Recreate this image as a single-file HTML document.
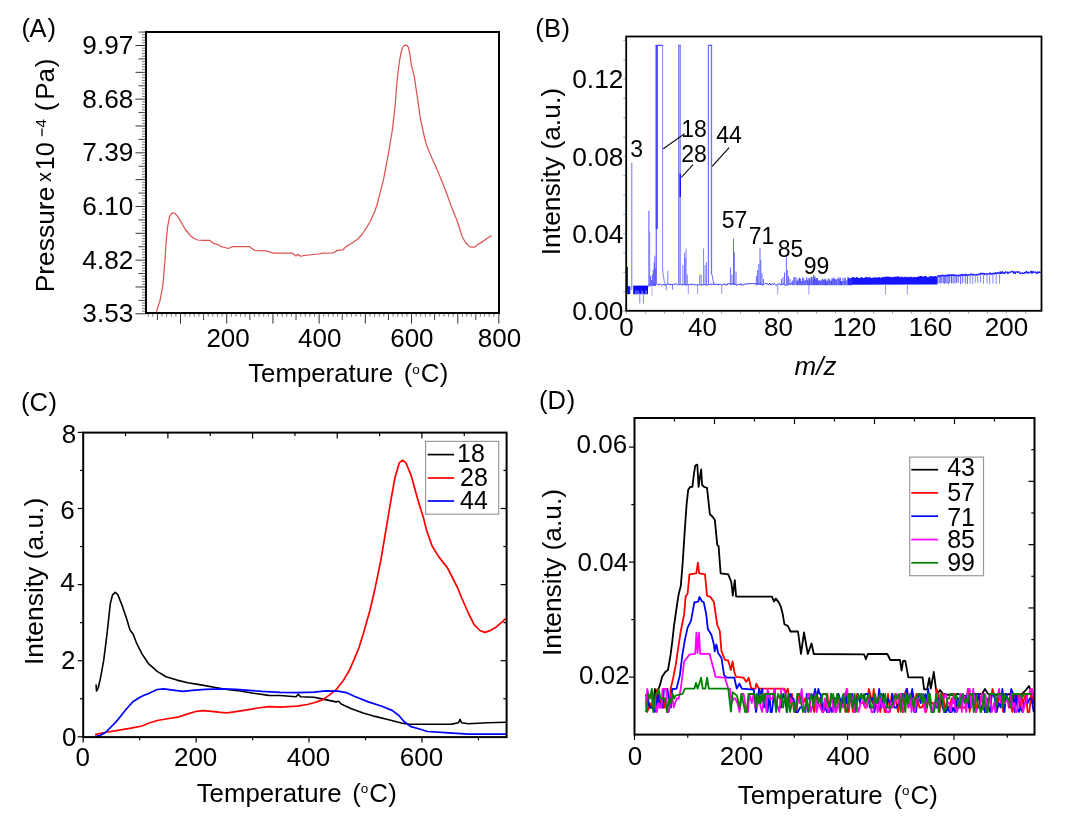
<!DOCTYPE html>
<html><head><meta charset="utf-8"><title>Figure</title>
<style>html,body{margin:0;padding:0;background:#fff;}svg{display:block;will-change:transform;}</style></head>
<body><svg width="1066" height="824" viewBox="0 0 1066 824" font-family='"Liberation Sans", sans-serif' fill="#000">
<rect x="0" y="0" width="1066" height="824" fill="#fff"/>
<line x1="138.5" y1="32.09" x2="146" y2="32.09" stroke="#444" stroke-width="1"/>
<line x1="142" y1="34.77" x2="146" y2="34.77" stroke="#777" stroke-width="1"/>
<line x1="142" y1="37.45" x2="146" y2="37.45" stroke="#777" stroke-width="1"/>
<line x1="142" y1="40.13" x2="146" y2="40.13" stroke="#777" stroke-width="1"/>
<line x1="142" y1="42.82" x2="146" y2="42.82" stroke="#777" stroke-width="1"/>
<line x1="135.5" y1="45.5" x2="146" y2="45.5" stroke="#333" stroke-width="1"/>
<line x1="142" y1="48.18" x2="146" y2="48.18" stroke="#777" stroke-width="1"/>
<line x1="142" y1="50.87" x2="146" y2="50.87" stroke="#777" stroke-width="1"/>
<line x1="142" y1="53.55" x2="146" y2="53.55" stroke="#777" stroke-width="1"/>
<line x1="142" y1="56.23" x2="146" y2="56.23" stroke="#777" stroke-width="1"/>
<line x1="138.5" y1="58.91" x2="146" y2="58.91" stroke="#444" stroke-width="1"/>
<line x1="142" y1="61.6" x2="146" y2="61.6" stroke="#777" stroke-width="1"/>
<line x1="142" y1="64.28" x2="146" y2="64.28" stroke="#777" stroke-width="1"/>
<line x1="142" y1="66.96" x2="146" y2="66.96" stroke="#777" stroke-width="1"/>
<line x1="142" y1="69.65" x2="146" y2="69.65" stroke="#777" stroke-width="1"/>
<line x1="135.5" y1="72.33" x2="146" y2="72.33" stroke="#333" stroke-width="1"/>
<line x1="142" y1="75.01" x2="146" y2="75.01" stroke="#777" stroke-width="1"/>
<line x1="142" y1="77.7" x2="146" y2="77.7" stroke="#777" stroke-width="1"/>
<line x1="142" y1="80.38" x2="146" y2="80.38" stroke="#777" stroke-width="1"/>
<line x1="142" y1="83.06" x2="146" y2="83.06" stroke="#777" stroke-width="1"/>
<line x1="138.5" y1="85.75" x2="146" y2="85.75" stroke="#444" stroke-width="1"/>
<line x1="142" y1="88.43" x2="146" y2="88.43" stroke="#777" stroke-width="1"/>
<line x1="142" y1="91.11" x2="146" y2="91.11" stroke="#777" stroke-width="1"/>
<line x1="142" y1="93.79" x2="146" y2="93.79" stroke="#777" stroke-width="1"/>
<line x1="142" y1="96.48" x2="146" y2="96.48" stroke="#777" stroke-width="1"/>
<line x1="135.5" y1="99.16" x2="146" y2="99.16" stroke="#333" stroke-width="1"/>
<line x1="142" y1="101.84" x2="146" y2="101.84" stroke="#777" stroke-width="1"/>
<line x1="142" y1="104.53" x2="146" y2="104.53" stroke="#777" stroke-width="1"/>
<line x1="142" y1="107.21" x2="146" y2="107.21" stroke="#777" stroke-width="1"/>
<line x1="142" y1="109.89" x2="146" y2="109.89" stroke="#777" stroke-width="1"/>
<line x1="138.5" y1="112.57" x2="146" y2="112.57" stroke="#444" stroke-width="1"/>
<line x1="142" y1="115.26" x2="146" y2="115.26" stroke="#777" stroke-width="1"/>
<line x1="142" y1="117.94" x2="146" y2="117.94" stroke="#777" stroke-width="1"/>
<line x1="142" y1="120.62" x2="146" y2="120.62" stroke="#777" stroke-width="1"/>
<line x1="142" y1="123.31" x2="146" y2="123.31" stroke="#777" stroke-width="1"/>
<line x1="135.5" y1="125.99" x2="146" y2="125.99" stroke="#333" stroke-width="1"/>
<line x1="142" y1="128.67" x2="146" y2="128.67" stroke="#777" stroke-width="1"/>
<line x1="142" y1="131.36" x2="146" y2="131.36" stroke="#777" stroke-width="1"/>
<line x1="142" y1="134.04" x2="146" y2="134.04" stroke="#777" stroke-width="1"/>
<line x1="142" y1="136.72" x2="146" y2="136.72" stroke="#777" stroke-width="1"/>
<line x1="138.5" y1="139.41" x2="146" y2="139.41" stroke="#444" stroke-width="1"/>
<line x1="142" y1="142.09" x2="146" y2="142.09" stroke="#777" stroke-width="1"/>
<line x1="142" y1="144.77" x2="146" y2="144.77" stroke="#777" stroke-width="1"/>
<line x1="142" y1="147.45" x2="146" y2="147.45" stroke="#777" stroke-width="1"/>
<line x1="142" y1="150.14" x2="146" y2="150.14" stroke="#777" stroke-width="1"/>
<line x1="135.5" y1="152.82" x2="146" y2="152.82" stroke="#333" stroke-width="1"/>
<line x1="142" y1="155.5" x2="146" y2="155.5" stroke="#777" stroke-width="1"/>
<line x1="142" y1="158.19" x2="146" y2="158.19" stroke="#777" stroke-width="1"/>
<line x1="142" y1="160.87" x2="146" y2="160.87" stroke="#777" stroke-width="1"/>
<line x1="142" y1="163.55" x2="146" y2="163.55" stroke="#777" stroke-width="1"/>
<line x1="138.5" y1="166.23" x2="146" y2="166.23" stroke="#444" stroke-width="1"/>
<line x1="142" y1="168.92" x2="146" y2="168.92" stroke="#777" stroke-width="1"/>
<line x1="142" y1="171.6" x2="146" y2="171.6" stroke="#777" stroke-width="1"/>
<line x1="142" y1="174.28" x2="146" y2="174.28" stroke="#777" stroke-width="1"/>
<line x1="142" y1="176.97" x2="146" y2="176.97" stroke="#777" stroke-width="1"/>
<line x1="135.5" y1="179.65" x2="146" y2="179.65" stroke="#333" stroke-width="1"/>
<line x1="142" y1="182.33" x2="146" y2="182.33" stroke="#777" stroke-width="1"/>
<line x1="142" y1="185.02" x2="146" y2="185.02" stroke="#777" stroke-width="1"/>
<line x1="142" y1="187.7" x2="146" y2="187.7" stroke="#777" stroke-width="1"/>
<line x1="142" y1="190.38" x2="146" y2="190.38" stroke="#777" stroke-width="1"/>
<line x1="138.5" y1="193.06" x2="146" y2="193.06" stroke="#444" stroke-width="1"/>
<line x1="142" y1="195.75" x2="146" y2="195.75" stroke="#777" stroke-width="1"/>
<line x1="142" y1="198.43" x2="146" y2="198.43" stroke="#777" stroke-width="1"/>
<line x1="142" y1="201.11" x2="146" y2="201.11" stroke="#777" stroke-width="1"/>
<line x1="142" y1="203.8" x2="146" y2="203.8" stroke="#777" stroke-width="1"/>
<line x1="135.5" y1="206.48" x2="146" y2="206.48" stroke="#333" stroke-width="1"/>
<line x1="142" y1="209.16" x2="146" y2="209.16" stroke="#777" stroke-width="1"/>
<line x1="142" y1="211.85" x2="146" y2="211.85" stroke="#777" stroke-width="1"/>
<line x1="142" y1="214.53" x2="146" y2="214.53" stroke="#777" stroke-width="1"/>
<line x1="142" y1="217.21" x2="146" y2="217.21" stroke="#777" stroke-width="1"/>
<line x1="138.5" y1="219.89" x2="146" y2="219.89" stroke="#444" stroke-width="1"/>
<line x1="142" y1="222.58" x2="146" y2="222.58" stroke="#777" stroke-width="1"/>
<line x1="142" y1="225.26" x2="146" y2="225.26" stroke="#777" stroke-width="1"/>
<line x1="142" y1="227.94" x2="146" y2="227.94" stroke="#777" stroke-width="1"/>
<line x1="142" y1="230.63" x2="146" y2="230.63" stroke="#777" stroke-width="1"/>
<line x1="135.5" y1="233.31" x2="146" y2="233.31" stroke="#333" stroke-width="1"/>
<line x1="142" y1="235.99" x2="146" y2="235.99" stroke="#777" stroke-width="1"/>
<line x1="142" y1="238.68" x2="146" y2="238.68" stroke="#777" stroke-width="1"/>
<line x1="142" y1="241.36" x2="146" y2="241.36" stroke="#777" stroke-width="1"/>
<line x1="142" y1="244.04" x2="146" y2="244.04" stroke="#777" stroke-width="1"/>
<line x1="138.5" y1="246.72" x2="146" y2="246.72" stroke="#444" stroke-width="1"/>
<line x1="142" y1="249.41" x2="146" y2="249.41" stroke="#777" stroke-width="1"/>
<line x1="142" y1="252.09" x2="146" y2="252.09" stroke="#777" stroke-width="1"/>
<line x1="142" y1="254.77" x2="146" y2="254.77" stroke="#777" stroke-width="1"/>
<line x1="142" y1="257.46" x2="146" y2="257.46" stroke="#777" stroke-width="1"/>
<line x1="135.5" y1="260.14" x2="146" y2="260.14" stroke="#333" stroke-width="1"/>
<line x1="142" y1="262.82" x2="146" y2="262.82" stroke="#777" stroke-width="1"/>
<line x1="142" y1="265.51" x2="146" y2="265.51" stroke="#777" stroke-width="1"/>
<line x1="142" y1="268.19" x2="146" y2="268.19" stroke="#777" stroke-width="1"/>
<line x1="142" y1="270.87" x2="146" y2="270.87" stroke="#777" stroke-width="1"/>
<line x1="138.5" y1="273.55" x2="146" y2="273.55" stroke="#444" stroke-width="1"/>
<line x1="142" y1="276.24" x2="146" y2="276.24" stroke="#777" stroke-width="1"/>
<line x1="142" y1="278.92" x2="146" y2="278.92" stroke="#777" stroke-width="1"/>
<line x1="142" y1="281.6" x2="146" y2="281.6" stroke="#777" stroke-width="1"/>
<line x1="142" y1="284.29" x2="146" y2="284.29" stroke="#777" stroke-width="1"/>
<line x1="135.5" y1="286.97" x2="146" y2="286.97" stroke="#333" stroke-width="1"/>
<line x1="142" y1="289.65" x2="146" y2="289.65" stroke="#777" stroke-width="1"/>
<line x1="142" y1="292.34" x2="146" y2="292.34" stroke="#777" stroke-width="1"/>
<line x1="142" y1="295.02" x2="146" y2="295.02" stroke="#777" stroke-width="1"/>
<line x1="142" y1="297.7" x2="146" y2="297.7" stroke="#777" stroke-width="1"/>
<line x1="138.5" y1="300.38" x2="146" y2="300.38" stroke="#444" stroke-width="1"/>
<line x1="142" y1="303.07" x2="146" y2="303.07" stroke="#777" stroke-width="1"/>
<line x1="142" y1="305.75" x2="146" y2="305.75" stroke="#777" stroke-width="1"/>
<line x1="142" y1="308.43" x2="146" y2="308.43" stroke="#777" stroke-width="1"/>
<line x1="142" y1="311.12" x2="146" y2="311.12" stroke="#777" stroke-width="1"/>
<line x1="135.5" y1="313.8" x2="146" y2="313.8" stroke="#333" stroke-width="1"/>
<text x="133.3" y="54.1" font-size="26.2" text-anchor="end">9.97</text>
<text x="133.3" y="107.76" font-size="26.2" text-anchor="end">8.68</text>
<text x="133.3" y="161.42" font-size="26.2" text-anchor="end">7.39</text>
<text x="133.3" y="215.08" font-size="26.2" text-anchor="end">6.10</text>
<text x="133.3" y="268.74" font-size="26.2" text-anchor="end">4.82</text>
<text x="133.3" y="322.4" font-size="26.2" text-anchor="end">3.53</text>
<line x1="148.16" y1="313" x2="148.16" y2="316.7" stroke="#777" stroke-width="1"/>
<line x1="152.78" y1="313" x2="152.78" y2="316.7" stroke="#777" stroke-width="1"/>
<line x1="157.41" y1="313" x2="157.41" y2="320" stroke="#444" stroke-width="1"/>
<line x1="162.03" y1="313" x2="162.03" y2="316.7" stroke="#777" stroke-width="1"/>
<line x1="166.65" y1="313" x2="166.65" y2="316.7" stroke="#777" stroke-width="1"/>
<line x1="171.27" y1="313" x2="171.27" y2="316.7" stroke="#777" stroke-width="1"/>
<line x1="175.89" y1="313" x2="175.89" y2="316.7" stroke="#777" stroke-width="1"/>
<line x1="180.51" y1="313" x2="180.51" y2="323.6" stroke="#333" stroke-width="1"/>
<line x1="185.13" y1="313" x2="185.13" y2="316.7" stroke="#777" stroke-width="1"/>
<line x1="189.75" y1="313" x2="189.75" y2="316.7" stroke="#777" stroke-width="1"/>
<line x1="194.37" y1="313" x2="194.37" y2="316.7" stroke="#777" stroke-width="1"/>
<line x1="198.99" y1="313" x2="198.99" y2="316.7" stroke="#777" stroke-width="1"/>
<line x1="203.62" y1="313" x2="203.62" y2="320" stroke="#444" stroke-width="1"/>
<line x1="208.24" y1="313" x2="208.24" y2="316.7" stroke="#777" stroke-width="1"/>
<line x1="212.86" y1="313" x2="212.86" y2="316.7" stroke="#777" stroke-width="1"/>
<line x1="217.48" y1="313" x2="217.48" y2="316.7" stroke="#777" stroke-width="1"/>
<line x1="222.1" y1="313" x2="222.1" y2="316.7" stroke="#777" stroke-width="1"/>
<line x1="226.72" y1="313" x2="226.72" y2="323.6" stroke="#333" stroke-width="1"/>
<line x1="231.34" y1="313" x2="231.34" y2="316.7" stroke="#777" stroke-width="1"/>
<line x1="235.96" y1="313" x2="235.96" y2="316.7" stroke="#777" stroke-width="1"/>
<line x1="240.58" y1="313" x2="240.58" y2="316.7" stroke="#777" stroke-width="1"/>
<line x1="245.2" y1="313" x2="245.2" y2="316.7" stroke="#777" stroke-width="1"/>
<line x1="249.83" y1="313" x2="249.83" y2="320" stroke="#444" stroke-width="1"/>
<line x1="254.45" y1="313" x2="254.45" y2="316.7" stroke="#777" stroke-width="1"/>
<line x1="259.07" y1="313" x2="259.07" y2="316.7" stroke="#777" stroke-width="1"/>
<line x1="263.69" y1="313" x2="263.69" y2="316.7" stroke="#777" stroke-width="1"/>
<line x1="268.31" y1="313" x2="268.31" y2="316.7" stroke="#777" stroke-width="1"/>
<line x1="272.93" y1="313" x2="272.93" y2="323.6" stroke="#333" stroke-width="1"/>
<line x1="277.55" y1="313" x2="277.55" y2="316.7" stroke="#777" stroke-width="1"/>
<line x1="282.17" y1="313" x2="282.17" y2="316.7" stroke="#777" stroke-width="1"/>
<line x1="286.79" y1="313" x2="286.79" y2="316.7" stroke="#777" stroke-width="1"/>
<line x1="291.41" y1="313" x2="291.41" y2="316.7" stroke="#777" stroke-width="1"/>
<line x1="296.04" y1="313" x2="296.04" y2="320" stroke="#444" stroke-width="1"/>
<line x1="300.66" y1="313" x2="300.66" y2="316.7" stroke="#777" stroke-width="1"/>
<line x1="305.28" y1="313" x2="305.28" y2="316.7" stroke="#777" stroke-width="1"/>
<line x1="309.9" y1="313" x2="309.9" y2="316.7" stroke="#777" stroke-width="1"/>
<line x1="314.52" y1="313" x2="314.52" y2="316.7" stroke="#777" stroke-width="1"/>
<line x1="319.14" y1="313" x2="319.14" y2="323.6" stroke="#333" stroke-width="1"/>
<line x1="323.76" y1="313" x2="323.76" y2="316.7" stroke="#777" stroke-width="1"/>
<line x1="328.38" y1="313" x2="328.38" y2="316.7" stroke="#777" stroke-width="1"/>
<line x1="333" y1="313" x2="333" y2="316.7" stroke="#777" stroke-width="1"/>
<line x1="337.62" y1="313" x2="337.62" y2="316.7" stroke="#777" stroke-width="1"/>
<line x1="342.25" y1="313" x2="342.25" y2="320" stroke="#444" stroke-width="1"/>
<line x1="346.87" y1="313" x2="346.87" y2="316.7" stroke="#777" stroke-width="1"/>
<line x1="351.49" y1="313" x2="351.49" y2="316.7" stroke="#777" stroke-width="1"/>
<line x1="356.11" y1="313" x2="356.11" y2="316.7" stroke="#777" stroke-width="1"/>
<line x1="360.73" y1="313" x2="360.73" y2="316.7" stroke="#777" stroke-width="1"/>
<line x1="365.35" y1="313" x2="365.35" y2="323.6" stroke="#333" stroke-width="1"/>
<line x1="369.97" y1="313" x2="369.97" y2="316.7" stroke="#777" stroke-width="1"/>
<line x1="374.59" y1="313" x2="374.59" y2="316.7" stroke="#777" stroke-width="1"/>
<line x1="379.21" y1="313" x2="379.21" y2="316.7" stroke="#777" stroke-width="1"/>
<line x1="383.83" y1="313" x2="383.83" y2="316.7" stroke="#777" stroke-width="1"/>
<line x1="388.46" y1="313" x2="388.46" y2="320" stroke="#444" stroke-width="1"/>
<line x1="393.08" y1="313" x2="393.08" y2="316.7" stroke="#777" stroke-width="1"/>
<line x1="397.7" y1="313" x2="397.7" y2="316.7" stroke="#777" stroke-width="1"/>
<line x1="402.32" y1="313" x2="402.32" y2="316.7" stroke="#777" stroke-width="1"/>
<line x1="406.94" y1="313" x2="406.94" y2="316.7" stroke="#777" stroke-width="1"/>
<line x1="411.56" y1="313" x2="411.56" y2="323.6" stroke="#333" stroke-width="1"/>
<line x1="416.18" y1="313" x2="416.18" y2="316.7" stroke="#777" stroke-width="1"/>
<line x1="420.8" y1="313" x2="420.8" y2="316.7" stroke="#777" stroke-width="1"/>
<line x1="425.42" y1="313" x2="425.42" y2="316.7" stroke="#777" stroke-width="1"/>
<line x1="430.04" y1="313" x2="430.04" y2="316.7" stroke="#777" stroke-width="1"/>
<line x1="434.67" y1="313" x2="434.67" y2="320" stroke="#444" stroke-width="1"/>
<line x1="439.29" y1="313" x2="439.29" y2="316.7" stroke="#777" stroke-width="1"/>
<line x1="443.91" y1="313" x2="443.91" y2="316.7" stroke="#777" stroke-width="1"/>
<line x1="448.53" y1="313" x2="448.53" y2="316.7" stroke="#777" stroke-width="1"/>
<line x1="453.15" y1="313" x2="453.15" y2="316.7" stroke="#777" stroke-width="1"/>
<line x1="457.77" y1="313" x2="457.77" y2="323.6" stroke="#333" stroke-width="1"/>
<line x1="462.4" y1="313" x2="462.4" y2="316.7" stroke="#777" stroke-width="1"/>
<line x1="466.8" y1="313" x2="466.8" y2="316.7" stroke="#777" stroke-width="1"/>
<line x1="471.2" y1="313" x2="471.2" y2="316.7" stroke="#777" stroke-width="1"/>
<line x1="475.8" y1="313" x2="475.8" y2="320" stroke="#444" stroke-width="1"/>
<line x1="480.4" y1="313" x2="480.4" y2="316.7" stroke="#777" stroke-width="1"/>
<line x1="484.6" y1="313" x2="484.6" y2="316.7" stroke="#777" stroke-width="1"/>
<line x1="489.2" y1="313" x2="489.2" y2="316.7" stroke="#777" stroke-width="1"/>
<line x1="493.9" y1="313" x2="493.9" y2="316.7" stroke="#777" stroke-width="1"/>
<line x1="498.8" y1="313" x2="498.8" y2="323.6" stroke="#333" stroke-width="1"/>
<text x="228.1" y="346.6" font-size="26" text-anchor="middle">200</text>
<text x="319.7" y="346.6" font-size="26" text-anchor="middle">400</text>
<text x="411.9" y="346.6" font-size="26" text-anchor="middle">600</text>
<text x="499.5" y="346.6" font-size="26" text-anchor="middle">800</text>
<rect x="146" y="32" width="353" height="281" fill="none" stroke="#000" stroke-width="2"/>
<polyline points="156.3,312.3 160.1,300.1 162.9,285 164.8,262.5 166.3,240 167.6,226.9 169.5,216.6 171.5,213.5 173.2,212.8 175,213.5 177,215.6 180.7,221.3 185.4,229.7 188,232.5 191,236.3 194,238.5 197.6,240 203,240.3 209.8,240.4 213.5,243.4 218.2,244.7 221,246.6 225,247.5 228.5,248.5 232.3,246.6 240,246.6 249.2,246.6 254.8,250.4 266,250.9 273.6,253.2 282,253.2 292.3,253.2 294,254.5 296,256 298,254.3 300,256 301.7,256 305,255.4 309.2,255 318.6,254 322.4,253.2 333.6,252.8 337.4,250.4 343,249.8 346,246.6 351,243.8 357.5,239.3 362,234.5 366.2,228.2 370.5,221 374.4,212.2 377,205 379.3,196.2 383.7,178.7 388.1,155.4 392.5,129.1 395.4,102.9 396.9,82.5 398.3,70 399.8,59.2 401.5,51 402.7,47.5 404,45.5 405.6,45.2 407,45.5 408.5,47.5 410,55 411.4,65 414.3,76.6 417.3,97 420.2,117.5 423,131 426,143.7 429.5,152.5 433.3,161.2 437.5,170.5 442,181.6 446.5,193 450.8,204.9 456.6,219.5 459.5,228 462.4,237 465.5,242.5 468.3,245.7 471,247.2 474.1,247.2 478,244.5 482.9,241.4 487,238.5 491.6,235.5" fill="none" stroke="#dc5454" stroke-width="1.25" stroke-linejoin="round"/>
<text x="21.4" y="37" font-size="25.5">(</text>
<text x="29.55" y="37" font-size="25.5">A</text>
<text x="47.4" y="37" font-size="25.5">)</text>
<g transform="translate(54,0) rotate(-90)">
<text x="-292.3" y="0" font-size="26.4">Pressure</text>
<text x="-182.1" y="-3.3" font-size="20">x</text>
<text x="-170.3" y="0" font-size="25.3">10</text>
<text x="-127.4" y="-8.5" font-size="15">4</text>
<text x="-111.2" y="0" font-size="26">(</text>
<text x="-99.7" y="0" font-size="26">P</text>
<text x="-82.45" y="0" font-size="26">a</text>
<text x="-67.15" y="0" font-size="26">)</text>
</g>
<line x1="42" y1="128.4" x2="42" y2="136.2" stroke="#000" stroke-width="1.3"/>
<text x="248.18" y="382.4" font-size="25.8">Temperature</text>
<text x="403.85" y="382.4" font-size="25.8">(</text>
<text x="412.35" y="373.5" font-size="13.5">o</text>
<text x="420.85" y="382.4" font-size="25.8">C</text>
<text x="439.65" y="382.4" font-size="25.8">)</text>
<line x1="623.3" y1="311" x2="625.3" y2="311" stroke="#8fb0d0" stroke-width="1"/>
<line x1="623.3" y1="291.67" x2="625.3" y2="291.67" stroke="#8fb0d0" stroke-width="1"/>
<line x1="623.3" y1="272.34" x2="625.3" y2="272.34" stroke="#8fb0d0" stroke-width="1"/>
<line x1="623.3" y1="253.01" x2="625.3" y2="253.01" stroke="#8fb0d0" stroke-width="1"/>
<line x1="623.3" y1="233.68" x2="625.3" y2="233.68" stroke="#8fb0d0" stroke-width="1"/>
<line x1="623.3" y1="214.35" x2="625.3" y2="214.35" stroke="#8fb0d0" stroke-width="1"/>
<line x1="623.3" y1="195.02" x2="625.3" y2="195.02" stroke="#8fb0d0" stroke-width="1"/>
<line x1="623.3" y1="175.69" x2="625.3" y2="175.69" stroke="#8fb0d0" stroke-width="1"/>
<line x1="623.3" y1="156.36" x2="625.3" y2="156.36" stroke="#8fb0d0" stroke-width="1"/>
<line x1="623.3" y1="137.03" x2="625.3" y2="137.03" stroke="#8fb0d0" stroke-width="1"/>
<line x1="623.3" y1="117.7" x2="625.3" y2="117.7" stroke="#8fb0d0" stroke-width="1"/>
<line x1="623.3" y1="98.37" x2="625.3" y2="98.37" stroke="#8fb0d0" stroke-width="1"/>
<line x1="623.3" y1="79.04" x2="625.3" y2="79.04" stroke="#8fb0d0" stroke-width="1"/>
<line x1="623.3" y1="59.71" x2="625.3" y2="59.71" stroke="#8fb0d0" stroke-width="1"/>
<line x1="623.3" y1="40.38" x2="625.3" y2="40.38" stroke="#8fb0d0" stroke-width="1"/>
<line x1="626.5" y1="311.8" x2="626.5" y2="313.8" stroke="#8fb0d0" stroke-width="1"/>
<line x1="645.5" y1="311.8" x2="645.5" y2="313.8" stroke="#8fb0d0" stroke-width="1"/>
<line x1="664.5" y1="311.8" x2="664.5" y2="313.8" stroke="#8fb0d0" stroke-width="1"/>
<line x1="683.5" y1="311.8" x2="683.5" y2="313.8" stroke="#8fb0d0" stroke-width="1"/>
<line x1="702.5" y1="311.8" x2="702.5" y2="313.8" stroke="#8fb0d0" stroke-width="1"/>
<line x1="721.5" y1="311.8" x2="721.5" y2="313.8" stroke="#8fb0d0" stroke-width="1"/>
<line x1="740.5" y1="311.8" x2="740.5" y2="313.8" stroke="#8fb0d0" stroke-width="1"/>
<line x1="759.5" y1="311.8" x2="759.5" y2="313.8" stroke="#8fb0d0" stroke-width="1"/>
<line x1="778.5" y1="311.8" x2="778.5" y2="313.8" stroke="#8fb0d0" stroke-width="1"/>
<line x1="797.5" y1="311.8" x2="797.5" y2="313.8" stroke="#8fb0d0" stroke-width="1"/>
<line x1="816.5" y1="311.8" x2="816.5" y2="313.8" stroke="#8fb0d0" stroke-width="1"/>
<line x1="835.5" y1="311.8" x2="835.5" y2="313.8" stroke="#8fb0d0" stroke-width="1"/>
<line x1="854.5" y1="311.8" x2="854.5" y2="313.8" stroke="#8fb0d0" stroke-width="1"/>
<line x1="873.5" y1="311.8" x2="873.5" y2="313.8" stroke="#8fb0d0" stroke-width="1"/>
<line x1="892.5" y1="311.8" x2="892.5" y2="313.8" stroke="#8fb0d0" stroke-width="1"/>
<line x1="911.5" y1="311.8" x2="911.5" y2="313.8" stroke="#8fb0d0" stroke-width="1"/>
<line x1="930.5" y1="311.8" x2="930.5" y2="313.8" stroke="#8fb0d0" stroke-width="1"/>
<line x1="949.5" y1="311.8" x2="949.5" y2="313.8" stroke="#8fb0d0" stroke-width="1"/>
<line x1="968.5" y1="311.8" x2="968.5" y2="313.8" stroke="#8fb0d0" stroke-width="1"/>
<line x1="987.5" y1="311.8" x2="987.5" y2="313.8" stroke="#8fb0d0" stroke-width="1"/>
<line x1="1006.5" y1="311.8" x2="1006.5" y2="313.8" stroke="#8fb0d0" stroke-width="1"/>
<line x1="1025.5" y1="311.8" x2="1025.5" y2="313.8" stroke="#8fb0d0" stroke-width="1"/>
<text x="623.4" y="88.44" font-size="26.3" text-anchor="end">0.12</text>
<text x="623.4" y="165.76" font-size="26.3" text-anchor="end">0.08</text>
<text x="623.4" y="243.08" font-size="26.3" text-anchor="end">0.04</text>
<text x="623.4" y="320.4" font-size="26.3" text-anchor="end">0.00</text>
<text x="626.5" y="335.8" font-size="26" text-anchor="middle">0</text>
<text x="702.5" y="335.8" font-size="26" text-anchor="middle">40</text>
<text x="778.5" y="335.8" font-size="26" text-anchor="middle">80</text>
<text x="854.5" y="335.8" font-size="26" text-anchor="middle">120</text>
<text x="930.5" y="335.8" font-size="26" text-anchor="middle">160</text>
<text x="1006.5" y="335.8" font-size="26" text-anchor="middle">200</text>
<text x="815.5" y="374.5" font-size="26" text-anchor="middle" font-style="italic">m/z</text>
<text transform="translate(559.8,171.6) rotate(-90)" font-size="26.4" text-anchor="middle">Intensity (a.u.)</text>
<text x="535.2" y="37" font-size="25.5">(</text>
<text x="543.9" y="37" font-size="25.5">B</text>
<text x="561.4" y="37" font-size="25.5">)</text>
<path d="M648.5,284.32 L649.3,284.04 L650.1,284.84 L650.9,283.92 L651.7,284.66 L652.5,284.39 L653.3,283.89 L654.1,284.61 L654.9,283.86 L655.7,284.49 L656.5,283.91 L657.3,283.95 L658.1,284.48 L658.9,285.12 L659.7,284 L660.5,284.16 L661.3,284.8 L662.1,285.32 L662.9,284.72 L663.7,284.43 L664.5,285.36 L665.3,283.87 L666.1,285.17 L666.9,284.26 L667.7,284.03 L668.5,283.99 L669.3,284.29 L670.1,285.11 L670.9,284.09 L671.7,284.73 L672.5,284.82 L673.3,284.4 L674.1,284.68 L674.9,283.9 L675.7,283.9 L676.5,284.13 L677.3,284.89 L678.1,284.48 L678.9,284.3 L679.7,284.74 L680.5,284.53 L681.3,284.28 L682.1,285.07 L682.9,284.92 L683.7,284.19 L684.5,284.72 L685.3,284.64 L686.1,285.2 L686.9,284.97 L687.7,284.26 L688.5,285.37 L689.3,283.99 L690.1,284.47 L690.9,285.01 L691.7,284.04 L692.5,284.58 L693.3,283.86 L694.1,284.87 L694.9,285.02 L695.7,284.72 L696.5,285.2 L697.3,284.3 L698.1,284.91 L698.9,284.75 L699.7,284.73 L700.5,284.53 L701.3,285.14 L702.1,285.31 L702.9,284.56 L703.7,284.86 L704.5,283.9 L705.3,284.92 L706.1,284.84 L706.9,285.39 L707.7,285.12 L708.5,284.26 L709.3,284.42 L710.1,284.87 L710.9,283.84 L711.7,284.54 L712.5,284.07 L713.3,283.99 L714.1,283.89 L714.9,285.03 L715.7,284.01 L716.5,284.2 L717.3,284.43 L718.1,285.19 L718.9,283.93 L719.7,284.52 L720.5,284.4 L721.3,285.07 L722.1,284.94 L722.9,285.03 L723.7,283.86 L724.5,284.13 L725.3,284.02 L726.1,285.07 L726.9,285.22 L727.7,283.6 L728.5,283.65 L729.3,283.76 L730.1,283.77 L730.9,284.27 L731.7,284.48 L732.5,283.83 L733.3,283.31 L734.1,284.14 L734.9,284.04 L735.7,284.43 L736.5,285.21 L737.3,284.68 L738.1,284.33 L738.9,284.54 L739.7,284.65 L740.5,283.41 L741.3,285.1 L742.1,284.86 L742.9,285.05 L743.7,284.9 L744.5,284.08 L745.3,284.1 L746.1,283.51 L746.9,284.57 L747.7,283.42 L748.5,283.43 L749.3,283.72 L750.1,283.62 L750.9,283.98 L751.7,283.41 L752.5,283.3 L753.3,283.6 L754.1,283.5 L754.9,284.03 L755.7,283.35 L756.5,285.05 L757.3,284.53 L758.1,283.6 L758.9,283.8 L759.7,283.99 L760.5,284.03 L761.3,283.55 L762.1,285 L762.9,285.29 L763.7,284.23 L764.5,284.27 L765.3,283.47 L766.1,283.5 L766.9,283.99 L767.7,283.83 L768.5,284.96 L769.3,283.62 L770.1,283.35 L770.9,285.2 L771.7,284.36 L772.5,283.59 L773.3,284.39 L774.1,283.35 L774.9,284.36 L775.7,285.26 L776.5,285.03 L777.3,284.69 L778.1,283.82 L778.9,284.03 L779.7,283.63 L780.5,284.84 L781.3,284.37 L782.1,284.86 L782.9,283.96 L783.7,283.75 L784.5,284.92 L785.3,285.27 L786.1,285.01 L786.9,284.91 L787.7,284.94 L788.5,284.78 L789.3,283.75 L790.1,284.34 L790.9,284.01 L791.7,283.36" fill="none" stroke="#2a2aff" stroke-width="1" stroke-linejoin="round"/>
<rect x="626.9" y="286.2" width="3.4" height="8" fill="#1010ff"/>
<rect x="633.2" y="285.6" width="14.8" height="8.6" fill="#0808ff"/>
<rect x="635.5" y="290.5" width="1.1" height="3.8" fill="#9090ff"/>
<rect x="637.6" y="290.5" width="1.1" height="3.8" fill="#9090ff"/>
<rect x="641.5" y="290.5" width="1.1" height="3.8" fill="#9090ff"/>
<rect x="645.6" y="290.5" width="1.1" height="3.8" fill="#9090ff"/>
<polyline points="655.5,45.4 663.1,45.4" stroke="#5050ff" stroke-width="1.3" fill="none"/>
<polyline points="662.6,268 663.3,276 664.4,281.5 665.5,284.5" fill="none" stroke="#8080ff" stroke-width="1.0" stroke-linejoin="round"/>
<polyline points="677.9,45.4 680.9,45.4" stroke="#6060ff" stroke-width="1.2" fill="none"/>
<polyline points="707.9,45.4 712.1,45.4" stroke="#5050ff" stroke-width="1.3" fill="none"/>
<polyline points="712,274.6 713,280.5 714.2,284.5" fill="none" stroke="#7070ff" stroke-width="1.0" stroke-linejoin="round"/>
<polygon points="848,277.1 849,278.56 850,278.23 851,278.51 852,277.11 853,277.35 854,276.97 855,278.14 856,277.31 857,277.07 858,277.52 859,278.29 860,278.12 861,277.21 862,277.02 863,278.24 864,277.66 865,277.86 866,276.86 867,276.8 868,277.79 869,277.35 870,276.77 871,278.14 872,277.64 873,277.89 874,276.73 875,277.95 876,276.67 877,277.93 878,277.26 879,277.06 880,277.39 881,277.97 882,276.9 883,276.66 884,277.28 885,276.81 886,276.58 887,276.65 888,276.46 889,276.69 890,276.85 891,276.82 892,277.53 893,276.76 894,277.08 895,276.55 896,276.81 897,276.27 898,276.62 899,276.23 900,277.36 901,277.06 902,276.46 903,276.9 904,277.62 905,276.28 906,277.41 907,276.77 908,276.86 909,277.39 910,276.66 911,276.83 912,277.1 913,277.56 914,276.52 915,277.29 916,277.07 917,276.94 918,276.56 919,276.45 920,275.97 921,276.07 922,275.96 923,277.02 924,276.23 925,276.06 926,275.92 927,277.12 928,277.15 929,276.81 930,276.18 931,276.1 932,276.16 933,276.41 934,275.91 935,276.36 936,276.05 937,277.15 937.5,284.4 848,284.8" fill="#1414ff"/>
<path d="M937,276.77 L937.9,276.21 L938.8,275.81 L939.7,276.63 L940.6,275.8 L941.5,275.82 L942.4,275.35 L943.3,275.76 L944.2,275.83 L945.1,275.82 L946,275.42 L946.9,275.74 L947.8,275.1 L948.7,275.37 L949.6,275.12 L950.5,275.45 L951.4,274.98 L952.3,274.91 L953.2,275.21 L954.1,275.08 L955,275.46 L955.9,275.35 L956.8,275.57 L957.7,275.42 L958.6,275.45 L959.5,275.6 L960.4,274.97 L961.3,274.85 L962.2,275.6 L963.1,274.56 L964,275.2 L964.9,275.06 L965.8,274.3 L966.7,275.21 L967.6,275.24 L968.5,274.88 L969.4,274.96 L970.3,275.01 L971.2,274.16 L972.1,274.58 L973,274.52 L973.9,274.87 L974.8,274.79 L975.7,274.78 L976.6,274.44 L977.5,274.77 L978.4,274.48 L979.3,274.45 L980.2,273.85 L981.1,273.57 L982,273.65 L982.9,273.88 L983.8,273.53 L984.7,274.37 L985.6,273.99 L986.5,274.03 L987.4,273.99 L988.3,274.01 L989.2,273.74 L990.1,273.11 L991,274.03 L991.9,273.92 L992.8,273.59 L993.7,273.58 L994.6,273.69 L995.5,272.94 L996.4,273.7 L997.3,273.08 L998.2,272.82 L999.1,273.01 L1000,273.52 L1000.9,272.85" fill="none" stroke="#1a1aff" stroke-width="1.6" stroke-linejoin="round"/>
<path d="M1000,271.2 L1000.8,273 L1001.6,273.21 L1002.4,271.49 L1003.2,273.42 L1004,272.91 L1004.8,273.36 L1005.6,271.9 L1006.4,272.09 L1007.2,272.14 L1008,273.6 L1008.8,272.61 L1009.6,272.07 L1010.4,272.23 L1011.2,271.86 L1012,271.32 L1012.8,271.44 L1013.6,273.2 L1014.4,271.89 L1015.2,273.45 L1016,271.8 L1016.8,271.84 L1017.6,272.43 L1018.4,271.66 L1019.2,272.1 L1020,273.49 L1020.8,273.32 L1021.6,273.15 L1022.4,272.71 L1023.2,273.39 L1024,273.46 L1024.8,272.52 L1025.6,272.93 L1026.4,271.32 L1027.2,272.96 L1028,272.28 L1028.8,273.01 L1029.6,272.75 L1030.4,271.89 L1031.2,271.32 L1032,273.42 L1032.8,271.51 L1033.6,272.33 L1034.4,272.02 L1035.2,271.91 L1036,272.97 L1036.8,273.54 L1037.6,271.82 L1038.4,272.77 L1039.2,271.92 L1040,272.54 L1040.8,272.15" fill="none" stroke="#1a1aff" stroke-width="1.3" stroke-linejoin="round"/>
<line x1="639.8" y1="293" x2="639.8" y2="303.5" stroke="#8080ff" stroke-width="1.0"/>
<line x1="643.4" y1="293" x2="643.4" y2="303.5" stroke="#8080ff" stroke-width="1.0"/>
<line x1="627.2" y1="267" x2="627.2" y2="287" stroke="#0000c0" stroke-width="1.3"/>
<line x1="631.8" y1="162.9" x2="631.8" y2="290" stroke="#7070ff" stroke-width="1.0"/>
<line x1="648.9" y1="210.8" x2="648.9" y2="287" stroke="#5a5aff" stroke-width="1.0"/>
<line x1="649.6" y1="232" x2="649.6" y2="287" stroke="#8a8aff" stroke-width="1.2"/>
<line x1="650.5" y1="276" x2="650.5" y2="286" stroke="#4a4aff" stroke-width="0.9"/>
<line x1="651.4" y1="280" x2="651.4" y2="286" stroke="#4a4aff" stroke-width="0.9"/>
<line x1="652.4" y1="274.6" x2="652.4" y2="286" stroke="#4a4aff" stroke-width="0.9"/>
<line x1="653.3" y1="270" x2="653.3" y2="286" stroke="#4a4aff" stroke-width="0.9"/>
<line x1="654.2" y1="262" x2="654.2" y2="286" stroke="#4a4aff" stroke-width="0.9"/>
<line x1="654.9" y1="255.7" x2="654.9" y2="286" stroke="#4a4aff" stroke-width="0.9"/>
<line x1="655.4" y1="268" x2="655.4" y2="286" stroke="#4a4aff" stroke-width="0.9"/>
<line x1="652" y1="284" x2="652" y2="296" stroke="#9a9aff" stroke-width="0.8"/>
<line x1="656.7" y1="45.4" x2="656.7" y2="229" stroke="#4848ff" stroke-width="2.4"/>
<line x1="656.3" y1="229" x2="656.3" y2="283" stroke="#6a6aff" stroke-width="1.3"/>
<line x1="662.6" y1="45.4" x2="662.6" y2="268" stroke="#8080ff" stroke-width="1.0"/>
<line x1="667.8" y1="270.7" x2="667.8" y2="285" stroke="#7070ff" stroke-width="0.9"/>
<line x1="666.2" y1="284" x2="666.2" y2="290.4" stroke="#7070ff" stroke-width="0.9"/>
<line x1="672.5" y1="284" x2="672.5" y2="289.6" stroke="#7070ff" stroke-width="0.9"/>
<line x1="678.8" y1="45.4" x2="678.8" y2="284" stroke="#7a7aff" stroke-width="1.5"/>
<line x1="680.3" y1="45.4" x2="680.3" y2="284" stroke="#8a8aff" stroke-width="1.2"/>
<line x1="680.2" y1="173.6" x2="680.2" y2="197" stroke="#1515ff" stroke-width="1.5"/>
<line x1="682.9" y1="265" x2="682.9" y2="285" stroke="#5a5aff" stroke-width="0.8"/>
<line x1="684.5" y1="252.6" x2="684.5" y2="285" stroke="#5a5aff" stroke-width="0.8"/>
<line x1="686.1" y1="248.6" x2="686.1" y2="285" stroke="#5a5aff" stroke-width="0.8"/>
<line x1="687.3" y1="274.6" x2="687.3" y2="285" stroke="#5a5aff" stroke-width="0.8"/>
<line x1="685.3" y1="258" x2="685.3" y2="285" stroke="#5a5aff" stroke-width="0.8"/>
<line x1="699.7" y1="274.6" x2="699.7" y2="285" stroke="#5a5aff" stroke-width="0.8"/>
<line x1="701.2" y1="274.6" x2="701.2" y2="285" stroke="#5a5aff" stroke-width="0.8"/>
<line x1="703.6" y1="248.6" x2="703.6" y2="285" stroke="#5a5aff" stroke-width="0.8"/>
<line x1="705.1" y1="265" x2="705.1" y2="285" stroke="#5a5aff" stroke-width="0.8"/>
<line x1="706.4" y1="262" x2="706.4" y2="285" stroke="#5a5aff" stroke-width="0.8"/>
<line x1="688.3" y1="284.5" x2="688.3" y2="294" stroke="#8a8aff" stroke-width="0.9"/>
<line x1="697.6" y1="284.5" x2="697.6" y2="294" stroke="#8a8aff" stroke-width="0.9"/>
<line x1="721.7" y1="284.5" x2="721.7" y2="294" stroke="#8a8aff" stroke-width="0.9"/>
<line x1="708.4" y1="45.4" x2="708.4" y2="284" stroke="#7070ff" stroke-width="1.2"/>
<line x1="711.5" y1="45.4" x2="711.5" y2="274.6" stroke="#7070ff" stroke-width="1.3"/>
<line x1="730.4" y1="267.5" x2="730.4" y2="285" stroke="#5a5aff" stroke-width="0.9"/>
<line x1="732" y1="274.6" x2="732" y2="285" stroke="#5a5aff" stroke-width="0.9"/>
<line x1="733.5" y1="238.6" x2="733.5" y2="285" stroke="#5a5aff" stroke-width="0.9"/>
<line x1="734.3" y1="252" x2="734.3" y2="285" stroke="#5a5aff" stroke-width="0.9"/>
<line x1="736" y1="271.5" x2="736" y2="285" stroke="#5a5aff" stroke-width="0.9"/>
<line x1="756.4" y1="276" x2="756.4" y2="285" stroke="#5a5aff" stroke-width="0.9"/>
<line x1="757.6" y1="270" x2="757.6" y2="285" stroke="#5a5aff" stroke-width="0.9"/>
<line x1="758.8" y1="264" x2="758.8" y2="285" stroke="#5a5aff" stroke-width="0.9"/>
<line x1="760" y1="248" x2="760" y2="285" stroke="#5a5aff" stroke-width="0.9"/>
<line x1="760.8" y1="260" x2="760.8" y2="285" stroke="#5a5aff" stroke-width="0.9"/>
<line x1="762" y1="273" x2="762" y2="285" stroke="#5a5aff" stroke-width="0.9"/>
<line x1="763.5" y1="279" x2="763.5" y2="285" stroke="#5a5aff" stroke-width="0.9"/>
<line x1="781.5" y1="279" x2="781.5" y2="285" stroke="#5a5aff" stroke-width="0.9"/>
<line x1="783" y1="277" x2="783" y2="285" stroke="#5a5aff" stroke-width="0.9"/>
<line x1="784.5" y1="272.5" x2="784.5" y2="285" stroke="#5a5aff" stroke-width="0.9"/>
<line x1="786.4" y1="257.4" x2="786.4" y2="285" stroke="#5a5aff" stroke-width="0.9"/>
<line x1="787.3" y1="270" x2="787.3" y2="285" stroke="#5a5aff" stroke-width="0.9"/>
<line x1="788.5" y1="276" x2="788.5" y2="285" stroke="#5a5aff" stroke-width="0.9"/>
<line x1="790" y1="279" x2="790" y2="285" stroke="#5a5aff" stroke-width="0.9"/>
<line x1="777.7" y1="284" x2="777.7" y2="294.5" stroke="#8a8aff" stroke-width="0.9"/>
<line x1="808.9" y1="284" x2="808.9" y2="294.5" stroke="#8a8aff" stroke-width="0.9"/>
<line x1="885.5" y1="284" x2="885.5" y2="294.5" stroke="#8a8aff" stroke-width="0.9"/>
<line x1="907.4" y1="284" x2="907.4" y2="294.5" stroke="#8a8aff" stroke-width="0.9"/>
<line x1="792" y1="281.37" x2="792" y2="285.2" stroke="#3030ff" stroke-width="0.8"/>
<line x1="792.8" y1="280.33" x2="792.8" y2="285.2" stroke="#3030ff" stroke-width="0.8"/>
<line x1="793.88" y1="277.2" x2="793.88" y2="285.2" stroke="#3030ff" stroke-width="0.8"/>
<line x1="794.78" y1="277.28" x2="794.78" y2="285.2" stroke="#3030ff" stroke-width="0.8"/>
<line x1="796.06" y1="277.2" x2="796.06" y2="285.2" stroke="#3030ff" stroke-width="0.8"/>
<line x1="796.89" y1="280.51" x2="796.89" y2="285.2" stroke="#3030ff" stroke-width="0.8"/>
<line x1="797.63" y1="280.61" x2="797.63" y2="285.2" stroke="#3030ff" stroke-width="0.8"/>
<line x1="798.34" y1="278.69" x2="798.34" y2="285.2" stroke="#3030ff" stroke-width="0.8"/>
<line x1="799.54" y1="277.72" x2="799.54" y2="285.2" stroke="#3030ff" stroke-width="0.8"/>
<line x1="800.44" y1="278.56" x2="800.44" y2="285.2" stroke="#3030ff" stroke-width="0.8"/>
<line x1="801.56" y1="281.12" x2="801.56" y2="285.2" stroke="#3030ff" stroke-width="0.8"/>
<line x1="802.57" y1="277.41" x2="802.57" y2="285.2" stroke="#3030ff" stroke-width="0.8"/>
<line x1="803.67" y1="278.12" x2="803.67" y2="285.2" stroke="#3030ff" stroke-width="0.8"/>
<line x1="804.54" y1="280.7" x2="804.54" y2="285.2" stroke="#3030ff" stroke-width="0.8"/>
<line x1="805.63" y1="280" x2="805.63" y2="285.2" stroke="#3030ff" stroke-width="0.8"/>
<line x1="806.72" y1="277.13" x2="806.72" y2="285.2" stroke="#3030ff" stroke-width="0.8"/>
<line x1="807.53" y1="279.69" x2="807.53" y2="285.2" stroke="#3030ff" stroke-width="0.8"/>
<line x1="808.71" y1="278.24" x2="808.71" y2="285.2" stroke="#3030ff" stroke-width="0.8"/>
<line x1="809.35" y1="280.93" x2="809.35" y2="285.2" stroke="#3030ff" stroke-width="0.8"/>
<line x1="809.97" y1="277.43" x2="809.97" y2="285.2" stroke="#3030ff" stroke-width="0.8"/>
<line x1="811.04" y1="280.84" x2="811.04" y2="285.2" stroke="#3030ff" stroke-width="0.8"/>
<line x1="812.12" y1="277.09" x2="812.12" y2="285.2" stroke="#3030ff" stroke-width="0.8"/>
<line x1="813.08" y1="279.92" x2="813.08" y2="285.2" stroke="#3030ff" stroke-width="0.8"/>
<line x1="813.96" y1="280.91" x2="813.96" y2="285.2" stroke="#3030ff" stroke-width="0.8"/>
<line x1="814.46" y1="277.13" x2="814.46" y2="285.2" stroke="#3030ff" stroke-width="0.8"/>
<line x1="815.41" y1="279.13" x2="815.41" y2="285.2" stroke="#3030ff" stroke-width="0.8"/>
<line x1="816.54" y1="279.55" x2="816.54" y2="285.2" stroke="#3030ff" stroke-width="0.8"/>
<line x1="817.63" y1="277.78" x2="817.63" y2="285.2" stroke="#3030ff" stroke-width="0.8"/>
<line x1="818.25" y1="280.37" x2="818.25" y2="285.2" stroke="#3030ff" stroke-width="0.8"/>
<line x1="818.92" y1="280.42" x2="818.92" y2="285.2" stroke="#3030ff" stroke-width="0.8"/>
<line x1="819.8" y1="280.33" x2="819.8" y2="285.2" stroke="#3030ff" stroke-width="0.8"/>
<line x1="820.55" y1="280.91" x2="820.55" y2="285.2" stroke="#3030ff" stroke-width="0.8"/>
<line x1="821.65" y1="279.91" x2="821.65" y2="285.2" stroke="#3030ff" stroke-width="0.8"/>
<line x1="822.42" y1="278.87" x2="822.42" y2="285.2" stroke="#3030ff" stroke-width="0.8"/>
<line x1="823.5" y1="279.61" x2="823.5" y2="285.2" stroke="#3030ff" stroke-width="0.8"/>
<line x1="824.59" y1="279.24" x2="824.59" y2="285.2" stroke="#3030ff" stroke-width="0.8"/>
<line x1="825.4" y1="279.14" x2="825.4" y2="285.2" stroke="#3030ff" stroke-width="0.8"/>
<line x1="825.84" y1="279.52" x2="825.84" y2="285.2" stroke="#3030ff" stroke-width="0.8"/>
<line x1="826.4" y1="281.48" x2="826.4" y2="285.2" stroke="#3030ff" stroke-width="0.8"/>
<line x1="827.39" y1="280.72" x2="827.39" y2="285.2" stroke="#3030ff" stroke-width="0.8"/>
<line x1="828.14" y1="278.24" x2="828.14" y2="285.2" stroke="#3030ff" stroke-width="0.8"/>
<line x1="828.95" y1="280.03" x2="828.95" y2="285.2" stroke="#3030ff" stroke-width="0.8"/>
<line x1="829.73" y1="279" x2="829.73" y2="285.2" stroke="#3030ff" stroke-width="0.8"/>
<line x1="830.69" y1="281.02" x2="830.69" y2="285.2" stroke="#3030ff" stroke-width="0.8"/>
<line x1="831.49" y1="280.38" x2="831.49" y2="285.2" stroke="#3030ff" stroke-width="0.8"/>
<line x1="832.08" y1="278.02" x2="832.08" y2="285.2" stroke="#3030ff" stroke-width="0.8"/>
<line x1="832.84" y1="278.97" x2="832.84" y2="285.2" stroke="#3030ff" stroke-width="0.8"/>
<line x1="833.77" y1="277.39" x2="833.77" y2="285.2" stroke="#3030ff" stroke-width="0.8"/>
<line x1="834.47" y1="278.74" x2="834.47" y2="285.2" stroke="#3030ff" stroke-width="0.8"/>
<line x1="835.21" y1="279.2" x2="835.21" y2="285.2" stroke="#3030ff" stroke-width="0.8"/>
<line x1="836.08" y1="279.46" x2="836.08" y2="285.2" stroke="#3030ff" stroke-width="0.8"/>
<line x1="836.83" y1="279.35" x2="836.83" y2="285.2" stroke="#3030ff" stroke-width="0.8"/>
<line x1="837.87" y1="278.35" x2="837.87" y2="285.2" stroke="#3030ff" stroke-width="0.8"/>
<line x1="838.85" y1="277.26" x2="838.85" y2="285.2" stroke="#3030ff" stroke-width="0.8"/>
<line x1="839.4" y1="278.98" x2="839.4" y2="285.2" stroke="#3030ff" stroke-width="0.8"/>
<line x1="840.42" y1="277.72" x2="840.42" y2="285.2" stroke="#3030ff" stroke-width="0.8"/>
<line x1="840.88" y1="280.95" x2="840.88" y2="285.2" stroke="#3030ff" stroke-width="0.8"/>
<line x1="841.54" y1="281.17" x2="841.54" y2="285.2" stroke="#3030ff" stroke-width="0.8"/>
<line x1="842.06" y1="281.17" x2="842.06" y2="285.2" stroke="#3030ff" stroke-width="0.8"/>
<line x1="842.88" y1="277.97" x2="842.88" y2="285.2" stroke="#3030ff" stroke-width="0.8"/>
<line x1="843.85" y1="280.8" x2="843.85" y2="285.2" stroke="#3030ff" stroke-width="0.8"/>
<line x1="844.7" y1="278.53" x2="844.7" y2="285.2" stroke="#3030ff" stroke-width="0.8"/>
<line x1="845.13" y1="277.53" x2="845.13" y2="285.2" stroke="#3030ff" stroke-width="0.8"/>
<line x1="846.14" y1="280.51" x2="846.14" y2="285.2" stroke="#3030ff" stroke-width="0.8"/>
<line x1="847.14" y1="279.71" x2="847.14" y2="285.2" stroke="#3030ff" stroke-width="0.8"/>
<line x1="847.81" y1="277.05" x2="847.81" y2="285.2" stroke="#3030ff" stroke-width="0.8"/>
<line x1="848.71" y1="280.77" x2="848.71" y2="285.2" stroke="#3030ff" stroke-width="0.8"/>
<line x1="849.33" y1="279.18" x2="849.33" y2="285.2" stroke="#3030ff" stroke-width="0.8"/>
<line x1="849.88" y1="280.62" x2="849.88" y2="285.2" stroke="#3030ff" stroke-width="0.8"/>
<line x1="850.41" y1="278.25" x2="850.41" y2="285.2" stroke="#3030ff" stroke-width="0.8"/>
<line x1="850.73" y1="279.01" x2="850.73" y2="285.2" stroke="#3030ff" stroke-width="0.8"/>
<line x1="851.35" y1="281.42" x2="851.35" y2="285.2" stroke="#3030ff" stroke-width="0.8"/>
<line x1="851.88" y1="278.69" x2="851.88" y2="285.2" stroke="#3030ff" stroke-width="0.8"/>
<line x1="811.5" y1="277" x2="811.5" y2="285" stroke="#4a4aff" stroke-width="0.9"/>
<line x1="813.5" y1="274.8" x2="813.5" y2="285" stroke="#4a4aff" stroke-width="0.9"/>
<line x1="815" y1="276" x2="815" y2="285" stroke="#4a4aff" stroke-width="0.9"/>
<line x1="816.5" y1="278" x2="816.5" y2="285" stroke="#4a4aff" stroke-width="0.9"/>
<line x1="809.5" y1="279" x2="809.5" y2="285" stroke="#4a4aff" stroke-width="0.9"/>
<line x1="937.5" y1="276.18" x2="937.5" y2="283.09" stroke="#4a4aff" stroke-width="0.9"/>
<line x1="939.1" y1="276.1" x2="939.1" y2="283.46" stroke="#4a4aff" stroke-width="0.9"/>
<line x1="940.29" y1="276.05" x2="940.29" y2="283.48" stroke="#4a4aff" stroke-width="0.9"/>
<line x1="941.76" y1="275.98" x2="941.76" y2="283.05" stroke="#4a4aff" stroke-width="0.9"/>
<line x1="943.24" y1="275.91" x2="943.24" y2="283.24" stroke="#4a4aff" stroke-width="0.9"/>
<line x1="944.35" y1="275.86" x2="944.35" y2="283.98" stroke="#4a4aff" stroke-width="0.9"/>
<line x1="945.64" y1="275.8" x2="945.64" y2="283.09" stroke="#4a4aff" stroke-width="0.9"/>
<line x1="947.02" y1="275.73" x2="947.02" y2="283.35" stroke="#4a4aff" stroke-width="0.9"/>
<line x1="948.22" y1="275.67" x2="948.22" y2="284.11" stroke="#4a4aff" stroke-width="0.9"/>
<line x1="949.68" y1="275.61" x2="949.68" y2="283.19" stroke="#4a4aff" stroke-width="0.9"/>
<line x1="951.52" y1="275.52" x2="951.52" y2="283.19" stroke="#4a4aff" stroke-width="0.9"/>
<line x1="953.12" y1="275.44" x2="953.12" y2="283.43" stroke="#4a4aff" stroke-width="0.9"/>
<line x1="954.93" y1="275.36" x2="954.93" y2="283.5" stroke="#4a4aff" stroke-width="0.9"/>
<line x1="956.52" y1="275.28" x2="956.52" y2="282.86" stroke="#4a4aff" stroke-width="0.9"/>
<line x1="958.24" y1="275.2" x2="958.24" y2="282.73" stroke="#4a4aff" stroke-width="0.9"/>
<line x1="960.62" y1="275.09" x2="960.62" y2="284.17" stroke="#4a4aff" stroke-width="0.9"/>
<line x1="962.71" y1="274.99" x2="962.71" y2="282.97" stroke="#4a4aff" stroke-width="0.9"/>
<line x1="965.29" y1="274.87" x2="965.29" y2="283.53" stroke="#4a4aff" stroke-width="0.9"/>
<line x1="967.41" y1="274.77" x2="967.41" y2="283.89" stroke="#4a4aff" stroke-width="0.9"/>
<line x1="970.15" y1="274.65" x2="970.15" y2="283.88" stroke="#7a7aff" stroke-width="0.9"/>
<line x1="972.71" y1="274.53" x2="972.71" y2="283.99" stroke="#7a7aff" stroke-width="0.9"/>
<line x1="975.33" y1="274.4" x2="975.33" y2="282.77" stroke="#7a7aff" stroke-width="0.9"/>
<line x1="977.73" y1="274.29" x2="977.73" y2="282.97" stroke="#7a7aff" stroke-width="0.9"/>
<line x1="980.53" y1="274.16" x2="980.53" y2="282.87" stroke="#7a7aff" stroke-width="0.9"/>
<line x1="983.59" y1="274.02" x2="983.59" y2="283.85" stroke="#7a7aff" stroke-width="0.9"/>
<line x1="986.93" y1="273.86" x2="986.93" y2="283.47" stroke="#7a7aff" stroke-width="0.9"/>
<line x1="989.7" y1="273.73" x2="989.7" y2="284.19" stroke="#7a7aff" stroke-width="0.9"/>
<line x1="992.95" y1="273.58" x2="992.95" y2="283.52" stroke="#7a7aff" stroke-width="0.9"/>
<line x1="996.18" y1="273.43" x2="996.18" y2="283.99" stroke="#7a7aff" stroke-width="0.9"/>
<line x1="999.57" y1="273.27" x2="999.57" y2="283.73" stroke="#7a7aff" stroke-width="0.9"/>
<rect x="626.2" y="36.5" width="415.3" height="274.3" fill="none" stroke="#000" stroke-width="1.8"/>
<text x="630.3" y="156.8" font-size="23" text-anchor="start">3</text>
<text x="681.25" y="136.6" font-size="23" text-anchor="start">18</text>
<text x="681.25" y="161.9" font-size="23" text-anchor="start">28</text>
<text x="716.2" y="143.4" font-size="23" text-anchor="start">44</text>
<text x="721.8" y="227.5" font-size="23" text-anchor="start">57</text>
<text x="748.8" y="244.3" font-size="23" text-anchor="start">71</text>
<text x="777.7" y="257" font-size="23" text-anchor="start">85</text>
<text x="803.7" y="273.6" font-size="23" text-anchor="start">99</text>
<line x1="663.3" y1="148.8" x2="684.7" y2="133.6" stroke="#000" stroke-width="1.1"/>
<line x1="681.3" y1="177.5" x2="693.1" y2="164.6" stroke="#000" stroke-width="1.1"/>
<line x1="712.2" y1="166.3" x2="729.1" y2="147.7" stroke="#000" stroke-width="1.1"/>
<line x1="77.7" y1="736.8" x2="83.2" y2="736.8" stroke="#000" stroke-width="1.2"/>
<line x1="80" y1="698.75" x2="83.2" y2="698.75" stroke="#000" stroke-width="1.2"/>
<line x1="503.4" y1="698.75" x2="506.6" y2="698.75" stroke="#000" stroke-width="1.2"/>
<line x1="77.7" y1="660.7" x2="83.2" y2="660.7" stroke="#000" stroke-width="1.2"/>
<line x1="500.6" y1="660.7" x2="506.6" y2="660.7" stroke="#000" stroke-width="1.2"/>
<line x1="80" y1="622.65" x2="83.2" y2="622.65" stroke="#000" stroke-width="1.2"/>
<line x1="503.4" y1="622.65" x2="506.6" y2="622.65" stroke="#000" stroke-width="1.2"/>
<line x1="77.7" y1="584.6" x2="83.2" y2="584.6" stroke="#000" stroke-width="1.2"/>
<line x1="500.6" y1="584.6" x2="506.6" y2="584.6" stroke="#000" stroke-width="1.2"/>
<line x1="80" y1="546.55" x2="83.2" y2="546.55" stroke="#000" stroke-width="1.2"/>
<line x1="503.4" y1="546.55" x2="506.6" y2="546.55" stroke="#000" stroke-width="1.2"/>
<line x1="77.7" y1="508.5" x2="83.2" y2="508.5" stroke="#000" stroke-width="1.2"/>
<line x1="500.6" y1="508.5" x2="506.6" y2="508.5" stroke="#000" stroke-width="1.2"/>
<line x1="80" y1="470.45" x2="83.2" y2="470.45" stroke="#000" stroke-width="1.2"/>
<line x1="503.4" y1="470.45" x2="506.6" y2="470.45" stroke="#000" stroke-width="1.2"/>
<line x1="77.7" y1="432.4" x2="83.2" y2="432.4" stroke="#000" stroke-width="1.2"/>
<line x1="83.2" y1="737.1" x2="83.2" y2="742.6" stroke="#000" stroke-width="1.2"/>
<line x1="139.66" y1="737.1" x2="139.66" y2="740.3" stroke="#000" stroke-width="1.2"/>
<line x1="196.12" y1="737.1" x2="196.12" y2="742.6" stroke="#000" stroke-width="1.2"/>
<line x1="252.58" y1="737.1" x2="252.58" y2="740.3" stroke="#000" stroke-width="1.2"/>
<line x1="309.04" y1="737.1" x2="309.04" y2="742.6" stroke="#000" stroke-width="1.2"/>
<line x1="365.5" y1="737.1" x2="365.5" y2="740.3" stroke="#000" stroke-width="1.2"/>
<line x1="421.96" y1="737.1" x2="421.96" y2="742.6" stroke="#000" stroke-width="1.2"/>
<line x1="478.42" y1="737.1" x2="478.42" y2="740.3" stroke="#000" stroke-width="1.2"/>
<line x1="125.54" y1="432.6" x2="125.54" y2="436.1" stroke="#000" stroke-width="1.2"/>
<line x1="167.88" y1="432.6" x2="167.88" y2="438.6" stroke="#000" stroke-width="1.2"/>
<line x1="210.22" y1="432.6" x2="210.22" y2="436.1" stroke="#000" stroke-width="1.2"/>
<line x1="252.56" y1="432.6" x2="252.56" y2="438.6" stroke="#000" stroke-width="1.2"/>
<line x1="294.9" y1="432.6" x2="294.9" y2="436.1" stroke="#000" stroke-width="1.2"/>
<line x1="337.24" y1="432.6" x2="337.24" y2="438.6" stroke="#000" stroke-width="1.2"/>
<line x1="379.58" y1="432.6" x2="379.58" y2="436.1" stroke="#000" stroke-width="1.2"/>
<line x1="421.92" y1="432.6" x2="421.92" y2="438.6" stroke="#000" stroke-width="1.2"/>
<line x1="464.26" y1="432.6" x2="464.26" y2="436.1" stroke="#000" stroke-width="1.2"/>
<text x="76.4" y="746.1" font-size="26" text-anchor="end">0</text>
<text x="75.35" y="668.8" font-size="26" text-anchor="end">2</text>
<text x="74.8" y="590.7" font-size="26" text-anchor="end">4</text>
<text x="74.6" y="518.6" font-size="26" text-anchor="end">6</text>
<text x="76.3" y="443.1" font-size="26" text-anchor="end">8</text>
<text x="82.7" y="766.3" font-size="26" text-anchor="middle">0</text>
<text x="195.62" y="766.3" font-size="26" text-anchor="middle">200</text>
<text x="308.54" y="766.3" font-size="26" text-anchor="middle">400</text>
<text x="421.46" y="766.3" font-size="26" text-anchor="middle">600</text>
<text transform="translate(42.8,581.4) rotate(-90)" font-size="26.4" text-anchor="middle">Intensity (a.u.)</text>
<text x="196.68" y="802" font-size="25.8">Temperature</text>
<text x="352.35" y="802" font-size="25.8">(</text>
<text x="360.85" y="793.1" font-size="13.5">o</text>
<text x="369.35" y="802" font-size="25.8">C</text>
<text x="388.15" y="802" font-size="25.8">)</text>
<text x="21.1" y="410.5" font-size="25.5">(</text>
<text x="29.4" y="410.5" font-size="25.5">C</text>
<text x="48.4" y="410.5" font-size="25.5">)</text>
<polyline points="96.1,684.5 96.5,691 98.3,687.7 100.5,677.9 103.7,660.4 107,634.2 110.3,603.7 112.5,594.9 115.3,592.3 117.9,594.9 122.3,605.9 126.7,619 130,629.9 133.2,634.2 136.5,643 142,653.9 148.5,663.7 157.2,671.4 166,676.8 176.9,680.1 187.8,682.7 200.9,684.9 214,687.3 227.1,689.5 240.2,691 253.3,693.2 268.6,695.4 280,695.5 296.1,696.8 298.3,694.3 300.4,696.8 314,697.2 324.2,699.4 336.1,701.9 338.6,701.3 341.2,704 351.4,708.7 363.2,713 375.1,716.4 388.7,719.8 402.3,723.2 409.1,724.2 420,724.2 451.7,724.1 458.5,722.7 460.1,719.4 461.5,722.7 468.3,723.7 487.7,722.7 506,722.3" fill="none" stroke="#000" stroke-width="1.6" stroke-linejoin="round"/>
<polyline points="95,734.7 104.8,732.5 117.9,730.3 131,728.1 142,726 148.5,723.3 157.2,720.5 166,719 179.1,716.8 187.8,713.9 196.5,711.3 203.1,710.7 211.8,711.3 220.6,712.4 227.1,712.8 235.8,711.7 248.9,709.6 257.7,708 268.6,706.7 280,707.2 297,706.2 307.2,704.5 314,702.8 322.5,699.9 329.3,695.1 336.1,689.7 343.7,679.9 349.7,669.7 354.8,657.8 359,647.6 363.2,634 366.6,622.1 370,610.2 375.3,587.2 380.7,561 386.2,528.3 390.6,502 394.9,478 399.3,462.8 402.6,460.1 405.9,462.8 411.3,475.9 417.9,499.9 423.3,517.3 426.6,530.4 432,545.7 438.6,556.6 447.3,567.6 453.7,580 457.6,587.8 461.5,597.5 468.3,613 474.1,624.7 479.9,630.5 484.8,632.4 489.6,630.9 495.4,627.6 501.3,622.7 506,618.4" fill="none" stroke="#ff0000" stroke-width="1.7" stroke-linejoin="round"/>
<polyline points="95,736.6 100,735.6 105.8,732.2 111,727 116,721.9 120,717 124.3,711.5 129,706 133.6,701.2 140,697.2 144,695.2 148.5,693.6 157.2,689.5 163.8,688.8 174.7,690.3 183.4,691.4 192.2,690.3 205.3,689.3 222.7,688.8 235.8,689.3 248.9,690.3 262,691.4 280,692.4 297,692.6 314,692.1 325.9,690.9 337.8,691.2 346.3,692.6 354.8,696.5 368.3,701.9 381.9,706.2 392.1,710.4 398.9,715.5 404,721.5 410.8,726.6 417.8,728.5 427.5,731.5 448.8,732.8 468.3,734.2 506,734.2" fill="none" stroke="#0000ff" stroke-width="1.7" stroke-linejoin="round"/>
<rect x="83.2" y="432.6" width="423.4" height="304.5" fill="none" stroke="#000" stroke-width="2"/>
<rect x="425.6" y="441.4" width="73.1" height="72.8" fill="#fff" stroke="#999" stroke-width="1.2"/>
<line x1="427.7" y1="454.6" x2="454.1" y2="454.6" stroke="#000" stroke-width="1.7"/>
<text x="457" y="462.3" font-size="25" text-anchor="start">18</text>
<line x1="427.7" y1="478" x2="454.1" y2="478" stroke="#ff0000" stroke-width="1.7"/>
<text x="460" y="485.6" font-size="25" text-anchor="start">28</text>
<line x1="427.7" y1="501" x2="454.1" y2="501" stroke="#0000ff" stroke-width="1.7"/>
<text x="460" y="508.8" font-size="25" text-anchor="start">44</text>
<line x1="629" y1="677.1" x2="634.5" y2="677.1" stroke="#000" stroke-width="1.2"/>
<line x1="631.3" y1="619.6" x2="634.5" y2="619.6" stroke="#000" stroke-width="1.2"/>
<line x1="629" y1="562.1" x2="634.5" y2="562.1" stroke="#000" stroke-width="1.2"/>
<line x1="631.3" y1="504.6" x2="634.5" y2="504.6" stroke="#000" stroke-width="1.2"/>
<line x1="629" y1="447.1" x2="634.5" y2="447.1" stroke="#000" stroke-width="1.2"/>
<line x1="1031.3" y1="449.66" x2="1034.5" y2="449.66" stroke="#000" stroke-width="1.2"/>
<line x1="1028.5" y1="481.32" x2="1034.5" y2="481.32" stroke="#000" stroke-width="1.2"/>
<line x1="1031.3" y1="512.98" x2="1034.5" y2="512.98" stroke="#000" stroke-width="1.2"/>
<line x1="1028.5" y1="544.64" x2="1034.5" y2="544.64" stroke="#000" stroke-width="1.2"/>
<line x1="1031.3" y1="576.3" x2="1034.5" y2="576.3" stroke="#000" stroke-width="1.2"/>
<line x1="1028.5" y1="607.96" x2="1034.5" y2="607.96" stroke="#000" stroke-width="1.2"/>
<line x1="1031.3" y1="639.62" x2="1034.5" y2="639.62" stroke="#000" stroke-width="1.2"/>
<line x1="1028.5" y1="671.28" x2="1034.5" y2="671.28" stroke="#000" stroke-width="1.2"/>
<line x1="1031.3" y1="702.94" x2="1034.5" y2="702.94" stroke="#000" stroke-width="1.2"/>
<line x1="634.5" y1="734.6" x2="634.5" y2="740.1" stroke="#000" stroke-width="1.2"/>
<line x1="687.75" y1="734.6" x2="687.75" y2="737.8" stroke="#000" stroke-width="1.2"/>
<line x1="741" y1="734.6" x2="741" y2="740.1" stroke="#000" stroke-width="1.2"/>
<line x1="794.25" y1="734.6" x2="794.25" y2="737.8" stroke="#000" stroke-width="1.2"/>
<line x1="847.5" y1="734.6" x2="847.5" y2="740.1" stroke="#000" stroke-width="1.2"/>
<line x1="900.75" y1="734.6" x2="900.75" y2="737.8" stroke="#000" stroke-width="1.2"/>
<line x1="954" y1="734.6" x2="954" y2="740.1" stroke="#000" stroke-width="1.2"/>
<line x1="1007.25" y1="734.6" x2="1007.25" y2="737.8" stroke="#000" stroke-width="1.2"/>
<line x1="674.5" y1="418" x2="674.5" y2="421.5" stroke="#000" stroke-width="1.2"/>
<line x1="714.5" y1="418" x2="714.5" y2="424" stroke="#000" stroke-width="1.2"/>
<line x1="754.5" y1="418" x2="754.5" y2="421.5" stroke="#000" stroke-width="1.2"/>
<line x1="794.5" y1="418" x2="794.5" y2="424" stroke="#000" stroke-width="1.2"/>
<line x1="834.5" y1="418" x2="834.5" y2="421.5" stroke="#000" stroke-width="1.2"/>
<line x1="874.5" y1="418" x2="874.5" y2="424" stroke="#000" stroke-width="1.2"/>
<line x1="914.5" y1="418" x2="914.5" y2="421.5" stroke="#000" stroke-width="1.2"/>
<line x1="954.5" y1="418" x2="954.5" y2="424" stroke="#000" stroke-width="1.2"/>
<line x1="994.5" y1="418" x2="994.5" y2="421.5" stroke="#000" stroke-width="1.2"/>
<text x="627.2" y="452.5" font-size="26" text-anchor="end">0.06</text>
<text x="628.1" y="570.7" font-size="26" text-anchor="end">0.04</text>
<text x="629.7" y="683.6" font-size="26" text-anchor="end">0.02</text>
<text x="635" y="765.2" font-size="26" text-anchor="middle">0</text>
<text x="741.5" y="765.2" font-size="26" text-anchor="middle">200</text>
<text x="848" y="765.2" font-size="26" text-anchor="middle">400</text>
<text x="954.5" y="765.2" font-size="26" text-anchor="middle">600</text>
<text transform="translate(560.8,572.5) rotate(-90)" font-size="26.4" text-anchor="middle">Intensity (a.u.)</text>
<text x="737.83" y="804.2" font-size="25.8">Temperature</text>
<text x="893.5" y="804.2" font-size="25.8">(</text>
<text x="902" y="795.3" font-size="13.5">o</text>
<text x="910.5" y="804.2" font-size="25.8">C</text>
<text x="929.3" y="804.2" font-size="25.8">)</text>
<text x="539.1" y="409.3" font-size="25.5">(</text>
<text x="547.6" y="409.3" font-size="25.5">D</text>
<text x="566.8" y="409.3" font-size="25.5">)</text>
<polyline points="646,703 648.2,703 649.83,707.5 651.11,707.5 652.78,707.5 654.88,689 655.3,692.1 658.7,688.7 660.4,683.6 662.1,676.8 665.5,671.7 668,670 670.6,654.7 672.3,641.1 674,625.9 675.7,614 677.4,602.1 678.8,593.7 680.8,585.9 682.7,562.6 684.7,531.6 686.6,504.4 688.2,489.8 690.1,486.9 692.4,486.9 694,473.3 695.3,465.5 697.3,464.6 698.6,486.9 700.2,475.2 701.2,469.4 702.1,485 704.1,486.9 707,487.9 709.9,514.1 712.8,517 714.8,519.9 717.3,545.1 718.6,546.1 720.6,573.3 728.3,574.3 731.3,582 732.8,595.6 734.8,580.1 736.1,596.6 772,596.6 774,601.5 775.9,598.5 778.8,602.4 781,607.2 782.7,614 784.4,624.2 787.8,625.9 790.5,631.5 798,631.5 801,654 804,632.3 807.8,654 811.5,643.5 813.8,654 864,654.3 865.9,659.3 867.8,654 887.3,654 890.3,660 900,660 901.6,670.5 903.1,660.8 905.3,660.8 908.3,677.3 922.6,677.3 924.1,689.3 927.1,689.3 929.3,678 930.8,688.6 933.8,672 936.1,690 937.6,693.8 940,690 943,694 950,695 958,694 966,696 975,694 982,694 985,689 988,694 1000,695 1012,694 1022,694 1026,690 1029,686 1032,694 1034,694" fill="none" stroke="#000" stroke-width="1.8" stroke-linejoin="round"/>
<polyline points="646,694 647.14,712 649.03,707.5 651.38,703 653.29,707.5 655.2,707.5 656.24,707.5 657.34,689 658.62,694 660.46,703 661.92,707.5 664.09,707.5 665.42,698.5 667.12,712 668.26,712 669.66,707.5 670.6,688.7 673.1,678.5 675.7,664.9 678.2,647.9 680.8,631 684.2,614 685.6,596.6 687.6,593.7 689.5,574.3 696.3,573.3 697.9,562.6 699.2,573.3 705,574.3 707,595.6 710.5,597 713.9,602.1 715.6,614 717.3,625 719.8,631 721.5,651.3 724.9,659.8 728.3,660.7 730.9,670 732.6,661.5 734.3,671.7 736,676.8 743.6,677.7 746.2,681.9 748.7,677.7 751.3,688.7 755.5,688.7 756.3,683.6 758.9,688.7 784.4,688.7 786.1,693 787.8,688.7 790,703 791.98,694 794.03,712 795.09,707.5 796.66,712 798.2,694 800.38,694 801.69,698.5 803.35,703 804.94,698.5 807.02,707.5 808.49,712 809.97,707.5 812.02,707.5 813.22,707.5 814.26,712 816.36,694 818.31,698.5 819.94,698.5 822.3,712 823.89,703 825.06,707.5 827.43,694 828.82,712 831.19,694 832.5,703 834.88,707.5 835.95,712 837.26,707.5 838.3,694 840.44,703 841.56,703 842.87,703 843.91,698.5 845.44,712 846.63,689 848.78,712 850.98,694 852.85,712 855.11,703 857.11,694 859.14,698.5 861.09,703 863.31,703 864.91,707.5 866.07,707.5 867.42,703 868.79,689 870.21,694 872.49,703 873.68,689 875.46,703 876.87,698.5 878.9,703 880.29,712 881.65,698.5 882.91,698.5 884.65,712 885.8,712 888.03,694 889.94,712 891.76,694 893.43,698.5 895.4,698.5 896.45,703 898.13,712 899.58,703 900.7,698.5 902.73,712 904.82,694 906.32,689 908.57,707.5 910.87,694 913.07,694 914.94,703 916.47,694 918.32,703 919.46,707.5 921.83,707.5 923.84,703 926.14,712 927.75,703 929.48,694 930.92,703 932.6,703 934.92,707.5 936.61,689 937.98,694 939.5,712 941.44,698.5 943.17,694 945.09,712 946.78,703 948.25,707.5 949.54,707.5 951.65,698.5 953.87,703 955.19,694 956.49,712 958.19,698.5 960.18,707.5 962.31,707.5 963.95,707.5 966.23,707.5 967.77,689 969.7,712 971.16,698.5 972.55,698.5 974.5,707.5 976.29,712 978.2,694 980.09,703 981.73,694 983.79,707.5 985.13,712 987.24,707.5 988.87,698.5 991.19,698.5 992.48,689 993.85,694 995.9,698.5 997.16,707.5 999.24,694 1000.79,703 1001.93,703 1003.13,712 1004.42,694 1005.95,694 1007.6,698.5 1008.75,707.5 1010.06,703 1012.42,712 1014.17,694 1015.54,694 1017.04,703 1018.11,694 1019.88,707.5 1021.56,694 1022.88,703 1024.48,698.5 1025.74,694 1027.69,712 1029.35,712 1031.65,689 1033.46,703" fill="none" stroke="#ff0000" stroke-width="1.8" stroke-linejoin="round"/>
<polyline points="646,703 647.74,698.5 649.89,707.5 651.78,707.5 653.49,707.5 654.86,712 656.4,707.5 657.71,694 660.04,707.5 661.43,703 662.73,707.5 663.9,689 665.75,689 667.5,689 669.22,703 670.98,707.5 672.17,689 674.12,689 676.5,688.7 679.9,675.1 682.5,653.9 685,639.4 687.6,627.6 691,620.8 694.4,602.1 695.3,602.4 698.3,601.5 699.4,597 702.1,601.5 703.7,602.1 706.2,614 707.9,629.3 711.3,634.4 713.9,644.5 714.7,651.3 716.4,644.5 718.1,653 721.5,658.1 724.1,675.1 726.6,677.7 734.3,677.7 736.8,688.7 739.4,683.6 741.9,688.7 753.8,689.6 756,712 757.58,703 758.97,689 760.66,694 762.27,689 764,707.5 765.28,694 767.56,712 769.54,694 770.61,712 771.93,712 773.39,698.5 774.74,689 775.91,707.5 778.09,707.5 780.08,707.5 781.13,707.5 783.28,694 785.03,698.5 786.77,712 788.1,698.5 790.35,694 792.19,698.5 793.51,698.5 795.74,712 797.97,712 799.97,707.5 801.52,707.5 803.67,707.5 805.43,712 806.72,694 807.88,698.5 810.13,698.5 811.31,694 813.02,698.5 815.13,689 816.29,698.5 818.35,689 819.57,694 820.74,694 822.91,712 825.19,707.5 827,712 829.31,712 830.43,707.5 831.9,712 833.5,698.5 835.1,698.5 836.14,698.5 838.31,694 839.89,698.5 841.91,703 844.18,694 845.33,694 846.79,703 848.9,703 850.7,698.5 852.4,694 854.52,707.5 855.92,707.5 857.95,694 860.08,703 861.28,694 863.5,698.5 865.56,694 867.13,694 868.25,694 869.68,707.5 870.71,698.5 873.08,698.5 874.42,712 875.9,703 877.69,703 879.24,689 881.13,707.5 883.19,694 884.37,707.5 886.39,707.5 888.01,698.5 890.07,703 891.1,707.5 892.46,694 894.23,707.5 896.57,707.5 898.46,703 900.22,698.5 901.77,694 903.31,694 905.5,698.5 907.1,689 908.69,703 910.53,698.5 912.27,689 914.18,712 916.1,712 917.16,703 918.97,694 920.55,703 921.64,694 923.68,698.5 925.49,694 926.61,703 928.22,689 929.58,703 930.66,707.5 932.95,712 934.17,703 936.01,707.5 937.1,707.5 938.74,698.5 940.93,698.5 942.67,707.5 944.18,712 946.11,712 947.95,707.5 949.46,712 951.78,712 953.12,707.5 954.83,712 956.91,698.5 958.31,698.5 960.19,703 961.47,703 963.17,698.5 965.38,698.5 967.26,694 968.65,707.5 969.7,698.5 970.86,707.5 971.98,703 974.24,694 976.01,698.5 977.69,698.5 979,694 980.69,712 982.85,703 984.96,712 987.08,698.5 988.71,707.5 990.26,712 991.78,694 993.19,694 994.8,698.5 996.61,712 998.82,703 1000.57,707.5 1002.36,689 1004.49,712 1005.92,694 1007.04,698.5 1009.3,703 1011.26,689 1013.27,694 1014.68,712 1015.99,694 1017.51,707.5 1018.97,712 1020.76,707.5 1022.38,712 1024.02,703 1025.59,703 1026.72,698.5 1027.77,703 1029.59,698.5 1031.61,698.5 1033.72,712" fill="none" stroke="#0000ff" stroke-width="1.8" stroke-linejoin="round"/>
<polyline points="646,707.5 647.26,689 649.31,698.5 651.44,694 653.16,707.5 654.39,698.5 656.73,712 658.89,703 660,707.5 661.44,707.5 662.57,689 663.96,689 666.21,689 667.26,712 668.48,712 670.61,703 671.96,694 673.65,707.5 675.13,703 676.68,698.5 678.8,698.5 680.8,688.7 684.2,661.5 689.3,654.7 695.2,653.9 696.4,632.7 697.6,653 699,632.7 700.2,653.9 709.6,653.9 715.6,676.8 724.9,677.7 728.3,688.7 730,689 731.68,703 733.67,698.5 735.25,698.5 737.43,703 739.58,712 741.9,694 743.64,694 745.75,707.5 748.02,712 749.38,694 751.74,703 753.69,694 754.99,707.5 756.73,707.5 759.07,698.5 760.73,707.5 762.16,712 764.24,694 766.5,712 767.54,689 769.8,698.5 771.25,698.5 772.52,698.5 774.34,689 776.17,703 777.79,707.5 779.35,712 781.23,689 783.41,689 785.63,694 787.55,703 789.23,703 790.79,698.5 793.1,703 795.45,707.5 797.54,698.5 799.45,703 801.69,689 803.94,712 806.04,707.5 807.89,694 809.47,694 810.69,712 812.57,707.5 814.3,698.5 815.52,694 816.54,712 818.68,703 820.18,707.5 822.41,712 823.54,712 824.59,698.5 826.17,703 828.26,712 829.56,707.5 831.3,694 833.6,712 835.05,703 836.18,712 838.55,703 840.06,712 841.23,703 843.16,707.5 845.07,694 847.27,689 848.61,707.5 850.25,694 852.44,698.5 854.68,712 856.1,703 858.39,712 860.71,703 862.49,703 863.86,698.5 865.39,707.5 866.86,707.5 868.64,694 870.27,703 871.42,712 873.28,712 875.22,694 876.49,703 877.56,712 879.38,703 880.54,698.5 881.77,707.5 883.38,703 884.87,707.5 887.15,712 889.05,712 891.19,703 892.86,707.5 894.73,703 896.58,694 898.94,703 900.86,694 902.23,698.5 903.72,712 904.88,703 906.18,694 908.27,707.5 910.12,694 911.49,712 913.25,698.5 915.11,712 916.91,698.5 919.27,698.5 921.06,694 922.93,698.5 925.01,712 926.36,707.5 928.33,694 929.48,698.5 930.86,707.5 932.49,712 933.84,703 935.62,707.5 936.87,694 938.71,707.5 941,694 942.41,698.5 943.76,698.5 945.91,694 947.74,703 949.38,703 950.64,712 952.08,703 953.94,694 955.17,707.5 956.83,712 958.57,707.5 960.36,694 961.84,712 963.22,694 964.31,698.5 966.31,712 967.88,689 969.72,689 971.21,707.5 973.25,689 975.48,712 977.64,707.5 979.78,707.5 981.57,694 983.3,707.5 984.9,694 986.35,698.5 987.77,707.5 989.79,694 991.83,712 994.05,703 995.41,712 996.75,703 999.1,689 1001.06,703 1002.82,703 1005.12,703 1007.5,698.5 1009.7,707.5 1011.49,694 1012.81,707.5 1014.6,703 1015.75,712 1016.94,712 1017.96,703 1019.97,694 1021.43,703 1023.05,712 1025.18,703 1026.39,703 1027.48,694 1029.12,694 1030.55,689 1031.77,689 1033.98,698.5" fill="none" stroke="#ff00ff" stroke-width="1.8" stroke-linejoin="round"/>
<polyline points="646,712 648.24,694 649.69,698.5 651.93,689 653.19,712 655.56,694 657.3,694 658.59,689 660.49,698.5 662.5,698.5 664.82,698.5 667.03,712 669.24,698.5 671.21,703 672.79,694 674.12,698.5 675.7,695.5 682.5,693.8 685,688.7 694.4,688.7 696,682.8 697.6,688.7 701.1,677.7 702.7,688.7 705.3,688.7 707.1,677.7 708.8,688.7 728.3,688.7 730.9,711.6 732.6,692.1 736.8,695.5 740,707.5 741.29,694 743.29,703 745.21,712 746.6,712 748.52,694 750.34,694 752.69,694 754.62,694 755.82,707.5 756.96,694 758.58,703 759.7,694 760.73,703 762.14,694 763.74,703 764.87,694 767.24,694 768.59,694 770.61,694 771.88,694 774.25,694 776.11,712 777.93,694 780.21,698.5 781.31,694 783.09,707.5 785.35,694 787.26,712 788.33,694 790.03,712 791.92,703 793.95,703 795.21,712 797.28,694 799.12,694 801.05,703 803.12,712 805.12,707.5 806.46,698.5 808.22,712 810.03,698.5 811.4,694 813.23,707.5 814.32,698.5 816.53,694 817.99,703 819.04,698.5 821.15,703 822.78,694 824.96,694 826.08,694 827.87,703 829.68,707.5 831.02,694 832.12,698.5 833.2,694 835.33,707.5 837.06,694 839.13,698.5 840.27,712 841.98,698.5 843.35,694 845.04,707.5 847.19,712 848.83,694 850.41,694 852.38,707.5 854.72,694 855.91,712 857.97,694 859.19,698.5 860.92,694 861.94,698.5 864.17,694 865.31,703 866.74,698.5 869.03,694 870.98,707.5 873.04,707.5 874.89,694 876.25,703 878.44,698.5 880.08,694 881.6,694 883.91,703 885.22,694 886.79,707.5 889.16,707.5 890.65,707.5 892.91,703 895.19,694 896.84,698.5 899.13,694 900.67,712 901.75,698.5 903.25,694 905.35,712 906.59,694 908.15,703 909.81,694 911.47,698.5 913.84,707.5 915.11,698.5 916.41,698.5 918,694 919.96,694 922.27,703 923.31,694 925.34,703 926.9,707.5 928.89,694 930.05,694 931.28,712 932.79,712 934.13,712 936.39,694 938.77,712 940.31,694 942.49,698.5 943.95,712 946.17,707.5 947.26,698.5 949.11,698.5 950.19,694 951.9,694 952.97,694 954.55,698.5 956.31,694 958.03,703 959.4,707.5 961.04,698.5 962.26,694 964.41,703 966.4,698.5 967.61,703 969.81,694 970.96,694 972.45,694 973.66,712 974.72,707.5 976.39,694 978.51,707.5 979.94,707.5 981.05,712 982.37,707.5 983.87,694 986.18,712 987.71,712 989.59,694 991.7,694 993.26,694 994.94,694 996.35,707.5 997.75,694 1000.03,694 1001.69,694 1003.19,707.5 1004.54,694 1006.57,698.5 1008.68,698.5 1010.49,707.5 1012.67,694 1014.65,694 1016.89,694 1018.41,694 1020.67,694 1021.76,698.5 1023.94,694 1025.59,694 1027.82,694 1028.87,694 1030.33,694 1032.12,694" fill="none" stroke="#008000" stroke-width="1.8" stroke-linejoin="round"/>
<rect x="634.5" y="418" width="400.0" height="316.6" fill="none" stroke="#000" stroke-width="2"/>
<rect x="909.7" y="457.1" width="73.8" height="118.6" fill="#fff" stroke="#999" stroke-width="1.2"/>
<line x1="911.3" y1="469.7" x2="938.1" y2="469.7" stroke="#000" stroke-width="1.7"/>
<text x="947.2" y="476.4" font-size="25" text-anchor="start">43</text>
<line x1="911.3" y1="492.9" x2="938.1" y2="492.9" stroke="#ff0000" stroke-width="1.7"/>
<text x="947.2" y="501.1" font-size="25" text-anchor="start">57</text>
<line x1="911.3" y1="516.2" x2="938.1" y2="516.2" stroke="#0000ff" stroke-width="1.7"/>
<text x="947.2" y="526.3" font-size="25" text-anchor="start">71</text>
<line x1="911.3" y1="539.6" x2="938.1" y2="539.6" stroke="#ff00ff" stroke-width="1.7"/>
<text x="947.2" y="548.1" font-size="25" text-anchor="start">85</text>
<line x1="911.3" y1="562.8" x2="938.1" y2="562.8" stroke="#008000" stroke-width="1.7"/>
<text x="947.2" y="571" font-size="25" text-anchor="start">99</text>
</svg></body></html>
